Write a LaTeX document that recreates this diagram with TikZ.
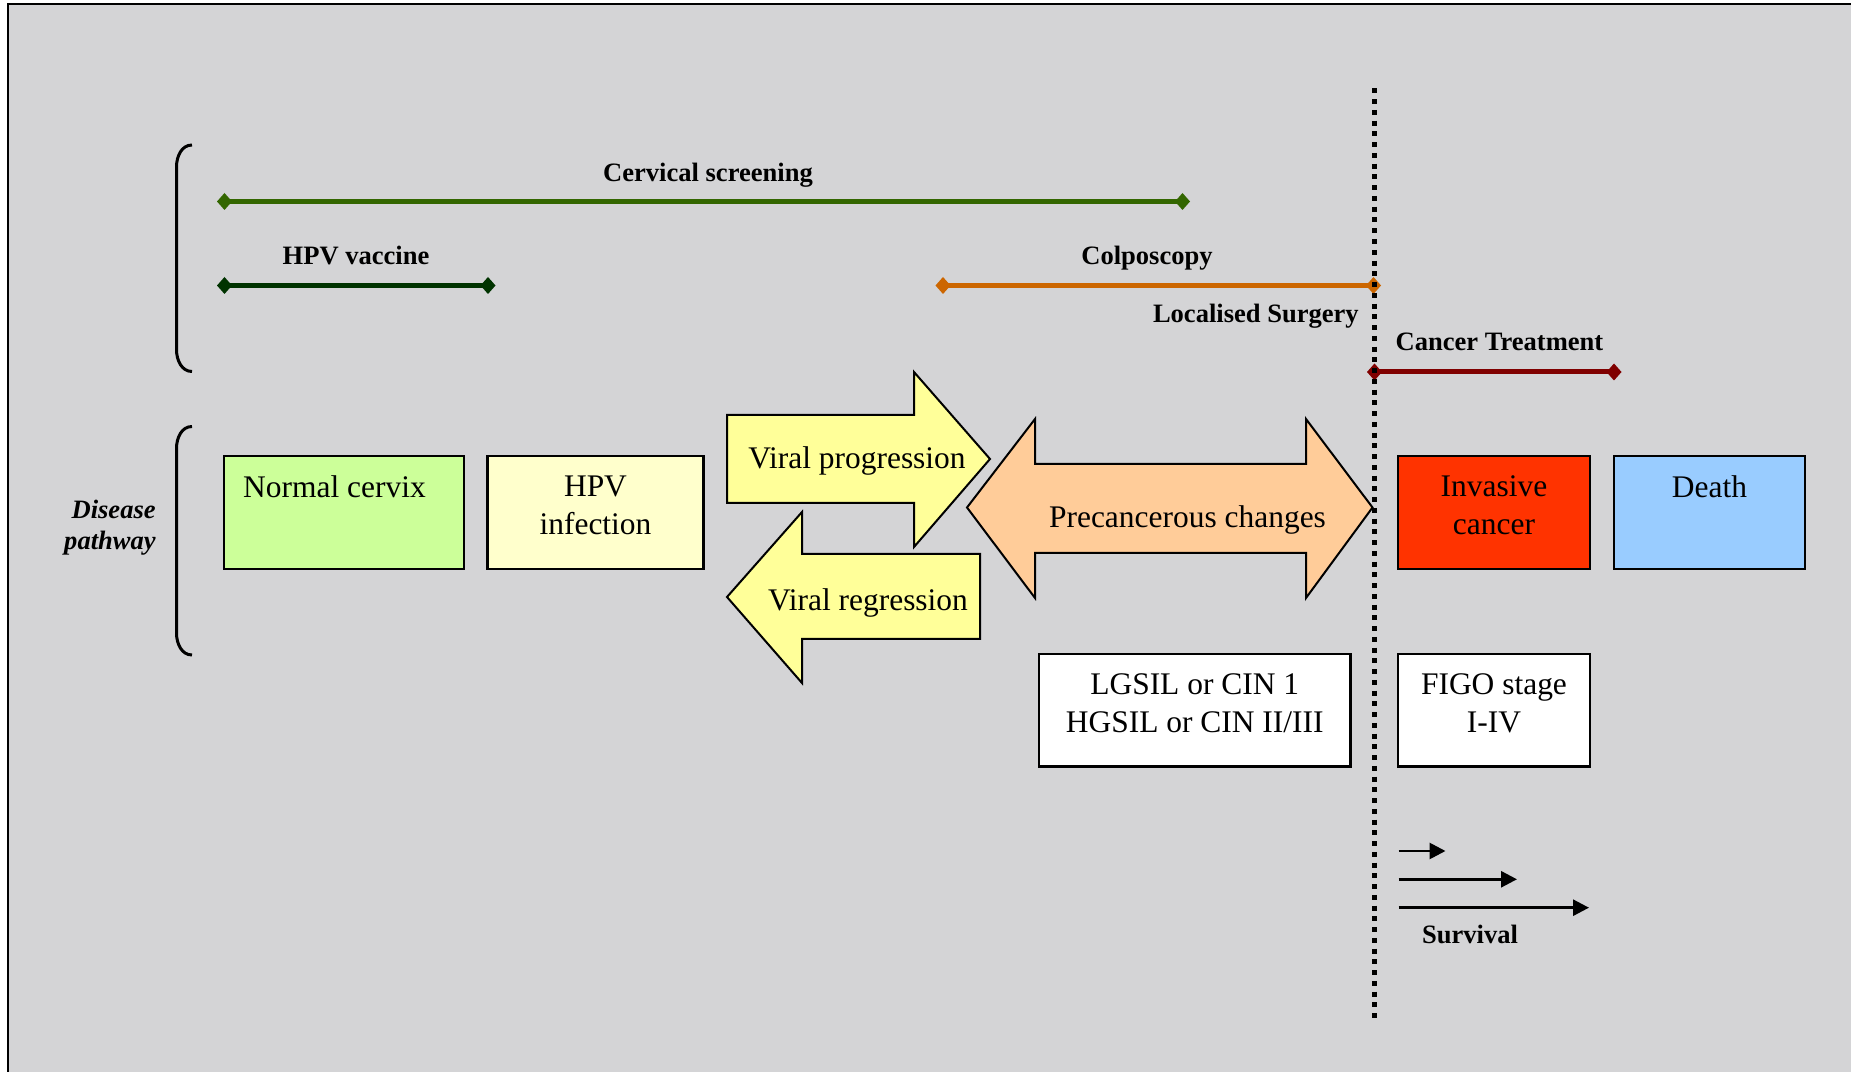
\documentclass[tikz,border=0pt]{standalone}
\usepackage{fontspec}
\setmainfont{Liberation Serif}
\usetikzlibrary{arrows.meta}

\definecolor{bggray}{RGB}{212,212,214}
\definecolor{scrgreen}{RGB}{51,102,0}
\definecolor{vacgreen}{RGB}{0,51,0}
\definecolor{colporange}{RGB}{204,102,0}
\definecolor{treatred}{RGB}{128,0,0}
\definecolor{normalfill}{RGB}{204,255,153}
\definecolor{hpvfill}{RGB}{255,255,204}
\definecolor{viralfill}{RGB}{255,255,153}
\definecolor{precfill}{RGB}{255,204,153}
\definecolor{invfill}{RGB}{255,51,0}
\definecolor{deathfill}{RGB}{153,204,255}

\begin{document}
\begin{tikzpicture}[
        stage/.style={draw,line width=0.05cm,minimum height=2.26cm,inner sep=0pt},
        stagetxt/.style={anchor=north,align=center,inner sep=0pt,font=\fontsize{17.9}{21.6}\selectfont},
        arrtxt/.style={anchor=base,inner sep=0pt,font=\fontsize{17.9}{21.6}\selectfont},
        bigarrow/.style={draw,line width=0.04cm},
        lbl/.style={anchor=base,inner sep=0pt,font=\fontsize{15.1}{18}\selectfont\bfseries},
        spanline/.style={line width=0.1cm,{Diamond[length=0.3cm,width=0.34cm]}-{Diamond[length=0.3cm,width=0.34cm]}},
        bracket/.style={line width=0.06cm},
        surv/.style={line width=0.055cm,-{Triangle[length=0.32cm,width=0.32cm]}}
    ]
        \useasboundingbox (0,0) rectangle (37.02,21.44);
        \fill[bggray] (0.16,0) rectangle (37.02,21.36);
        \draw[line width=0.04cm] (0.16,0) -- (0.16,21.36) -- (37.02,21.36);

        % interventions
        \coordinate (scr-a) at (4.34,17.41);
        \coordinate (scr-b) at (23.8,17.41);
        \coordinate (vac-a) at (4.34,15.73);
        \coordinate (vac-b) at (9.91,15.73);
        \coordinate (col-a) at (18.71,15.73);
        \coordinate (col-b) at (27.62,15.73);
        \coordinate (trt-a) at (27.34,14.0);
        \coordinate (trt-b) at (32.43,14.0);

        \draw[spanline,scrgreen] (scr-a) -- (scr-b);
        \draw[spanline,vacgreen] (vac-a) -- (vac-b);
        \draw[spanline,colporange] (col-a) -- (col-b);
        \draw[spanline,treatred] (trt-a) -- (trt-b);

        \node[lbl] (scr-l) at (14.16,17.8) {Cervical screening};
        \node[lbl] (vac-l) at (7.12,16.14) {HPV vaccine};
        \node[lbl] (col-l) at (22.94,16.14) {Colposcopy};
        \node[lbl,anchor=base east] (surg-l) at (27.18,14.98) {Localised Surgery};
        \node[lbl] (trt-l) at (29.99,14.42) {Cancer Treatment};

        \draw[bracket] (3.84,18.54) to[out=180,in=90] (3.53,18.1) -- (3.53,14.45) to[out=-90,in=180] (3.84,14.01);
        \draw[bracket] (3.84,12.91) to[out=180,in=90] (3.53,12.47) -- (3.53,8.78) to[out=-90,in=180] (3.84,8.34);

        \node[anchor=north east,align=right,inner sep=0pt,font=\fontsize{15.1}{17.9}\selectfont\bfseries\itshape] (path-l) at (3.12,11.45) {Disease\\pathway};

        % disease pathway
        \node[stage,fill=normalfill,minimum width=4.8cm] (normal) at (6.88,11.19) {};
        \node[stage,fill=hpvfill,minimum width=4.32cm] (hpv) at (11.91,11.19) {};
        \node[stage,fill=invfill,minimum width=3.84cm] (invasive) at (29.88,11.19) {};
        \node[stage,fill=deathfill,minimum width=3.82cm] (death) at (34.19,11.19) {};
        \node[stage,fill=white,minimum width=6.23cm,minimum height=2.25cm] (lgsil) at (23.895,7.235) {};
        \node[stage,fill=white,minimum width=3.84cm,minimum height=2.25cm] (figo) at (29.88,7.235) {};

        \node[stagetxt,xshift=-0.19cm] (normal-t) at ([yshift=-0.42cm]normal.north) {Normal cervix};
        \node[stagetxt] (hpv-t) at ([yshift=-0.42cm]hpv.north) {HPV\\infection};
        \node[stagetxt] (invasive-t) at ([yshift=-0.42cm]invasive.north) {Invasive\\cancer};
        \node[stagetxt] (death-t) at ([yshift=-0.42cm]death.north) {Death};
        \node[stagetxt] (lgsil-t) at ([yshift=-0.42cm]lgsil.north) {LGSIL or CIN 1\\HGSIL or CIN II/III};
        \node[stagetxt] (figo-t) at ([yshift=-0.42cm]figo.north) {FIGO stage\\I-IV};

        \draw[bigarrow,fill=viralfill] (14.54,13.14) -- (18.28,13.14) -- (18.28,14.0) -- (19.8,12.26)
            -- (18.28,10.5) -- (18.28,11.38) -- (14.54,11.38) -- cycle;
        \draw[bigarrow,fill=viralfill] (19.6,10.36) -- (16.04,10.36) -- (16.04,11.2) -- (14.54,9.5)
            -- (16.04,7.78) -- (16.04,8.66) -- (19.6,8.66) -- cycle;
        \draw[bigarrow,fill=precfill] (19.34,11.29) -- (20.7,13.06) -- (20.7,12.16) -- (26.12,12.16)
            -- (26.12,13.06) -- (27.45,11.29) -- (26.12,9.48) -- (26.12,10.38) -- (20.7,10.38)
            -- (20.7,9.48) -- cycle;

        \node[arrtxt] (prog-t) at (17.14,12.06) {Viral progression};
        \node[arrtxt] (regr-t) at (17.36,9.22) {Viral regression};
        \node[arrtxt] (prec-t) at (23.75,10.88) {Precancerous changes};

        % survival
        \coordinate (surv1-a) at (27.97,4.42);
        \coordinate (surv1-b) at (28.91,4.42);
        \coordinate (surv2-a) at (27.97,3.854);
        \coordinate (surv2-b) at (30.34,3.854);
        \coordinate (surv3-a) at (27.97,3.286);
        \coordinate (surv3-b) at (31.78,3.286);
        \draw[surv] (surv1-a) -- (surv1-b);
        \draw[surv] (surv2-a) -- (surv2-b);
        \draw[surv] (surv3-a) -- (surv3-b);
        \node[lbl] (surv-l) at (29.4,2.56) {Survival};

        \coordinate (div-top) at (27.48,19.67);
        \coordinate (div-bot) at (27.48,1.06);
        \draw[line width=0.1cm,dash pattern=on 0.1cm off 0.115cm] (div-top) -- (div-bot);
\end{tikzpicture}
\end{document}
